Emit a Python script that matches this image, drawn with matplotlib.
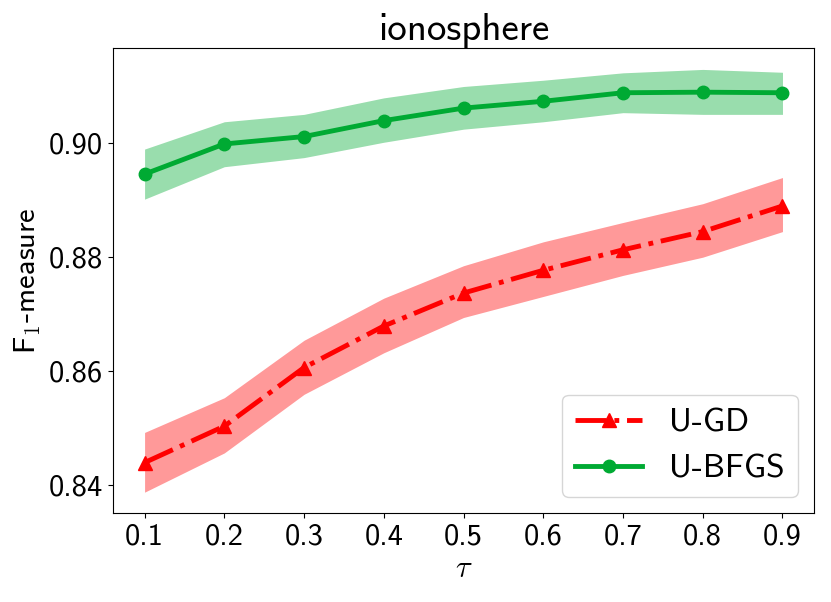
import matplotlib
matplotlib.use("Agg")
import matplotlib.pyplot as plt
import numpy as np

plt.rcParams['font.family'] = ['cmss10', 'DejaVu Sans']
plt.rcParams['mathtext.fontset'] = 'cm'
plt.rcParams['axes.formatter.use_mathtext'] = True

tau = [0.1, 0.2, 0.3, 0.4, 0.5, 0.6, 0.7, 0.8, 0.9]

gd_mean = [0.8439, 0.8503, 0.8606, 0.8679, 0.8737, 0.8777, 0.8813, 0.8845, 0.8890]
gd_upper = [0.8492, 0.8553, 0.8654, 0.8728, 0.8785, 0.8827, 0.8861, 0.8894, 0.8940]
gd_lower = [0.8387, 0.8456, 0.8559, 0.8632, 0.8694, 0.8731, 0.8768, 0.8800, 0.8845]

bfgs_mean = [0.8946, 0.8999, 0.9012, 0.9040, 0.9062, 0.9074, 0.9089, 0.9090, 0.9089]
bfgs_upper = [0.8990, 0.9038, 0.9051, 0.9080, 0.9100, 0.9111, 0.9124, 0.9130, 0.9125]
bfgs_lower = [0.8902, 0.8959, 0.8975, 0.9002, 0.9025, 0.9038, 0.9054, 0.9051, 0.9051]

yticks = [0.84, 0.86, 0.88, 0.90]
xticks = tau

red = '#ff0000'
green = '#00aa33'

fig = plt.figure(figsize=(8.31, 6.02), dpi=100)
ax = fig.add_axes([0.1356, 0.1473, 0.98 - 0.1356, 0.9198 - 0.1473])

ax.fill_between(tau, gd_lower, gd_upper, color=red, alpha=0.4, linewidth=0)
ax.fill_between(tau, bfgs_lower, bfgs_upper, color=green, alpha=0.4, linewidth=0)
ax.plot(tau, gd_mean, linestyle='-.', color=red, marker='^', markersize=10, linewidth=3.5, label='U-GD')
ax.plot(tau, bfgs_mean, linestyle='-', color=green, marker='o', markersize=9, linewidth=3.5, label='U-BFGS')

ax.set_xticks(xticks)
ax.set_xticklabels([f'{t:.1f}' for t in xticks])
ax.set_yticks(yticks)
ax.set_yticklabels([f'{v:.2f}' for v in yticks])
ax.tick_params(labelsize=22)

ax.set_xlabel(r'$\tau$', fontsize=22)
ax.set_ylabel(r'F$_\mathsf{1}$-measure', fontsize=22)
ax.set_title('ionosphere', fontsize=28)

ax.legend(loc='lower right', fontsize=24)

fig.savefig('out.png', dpi=100)
